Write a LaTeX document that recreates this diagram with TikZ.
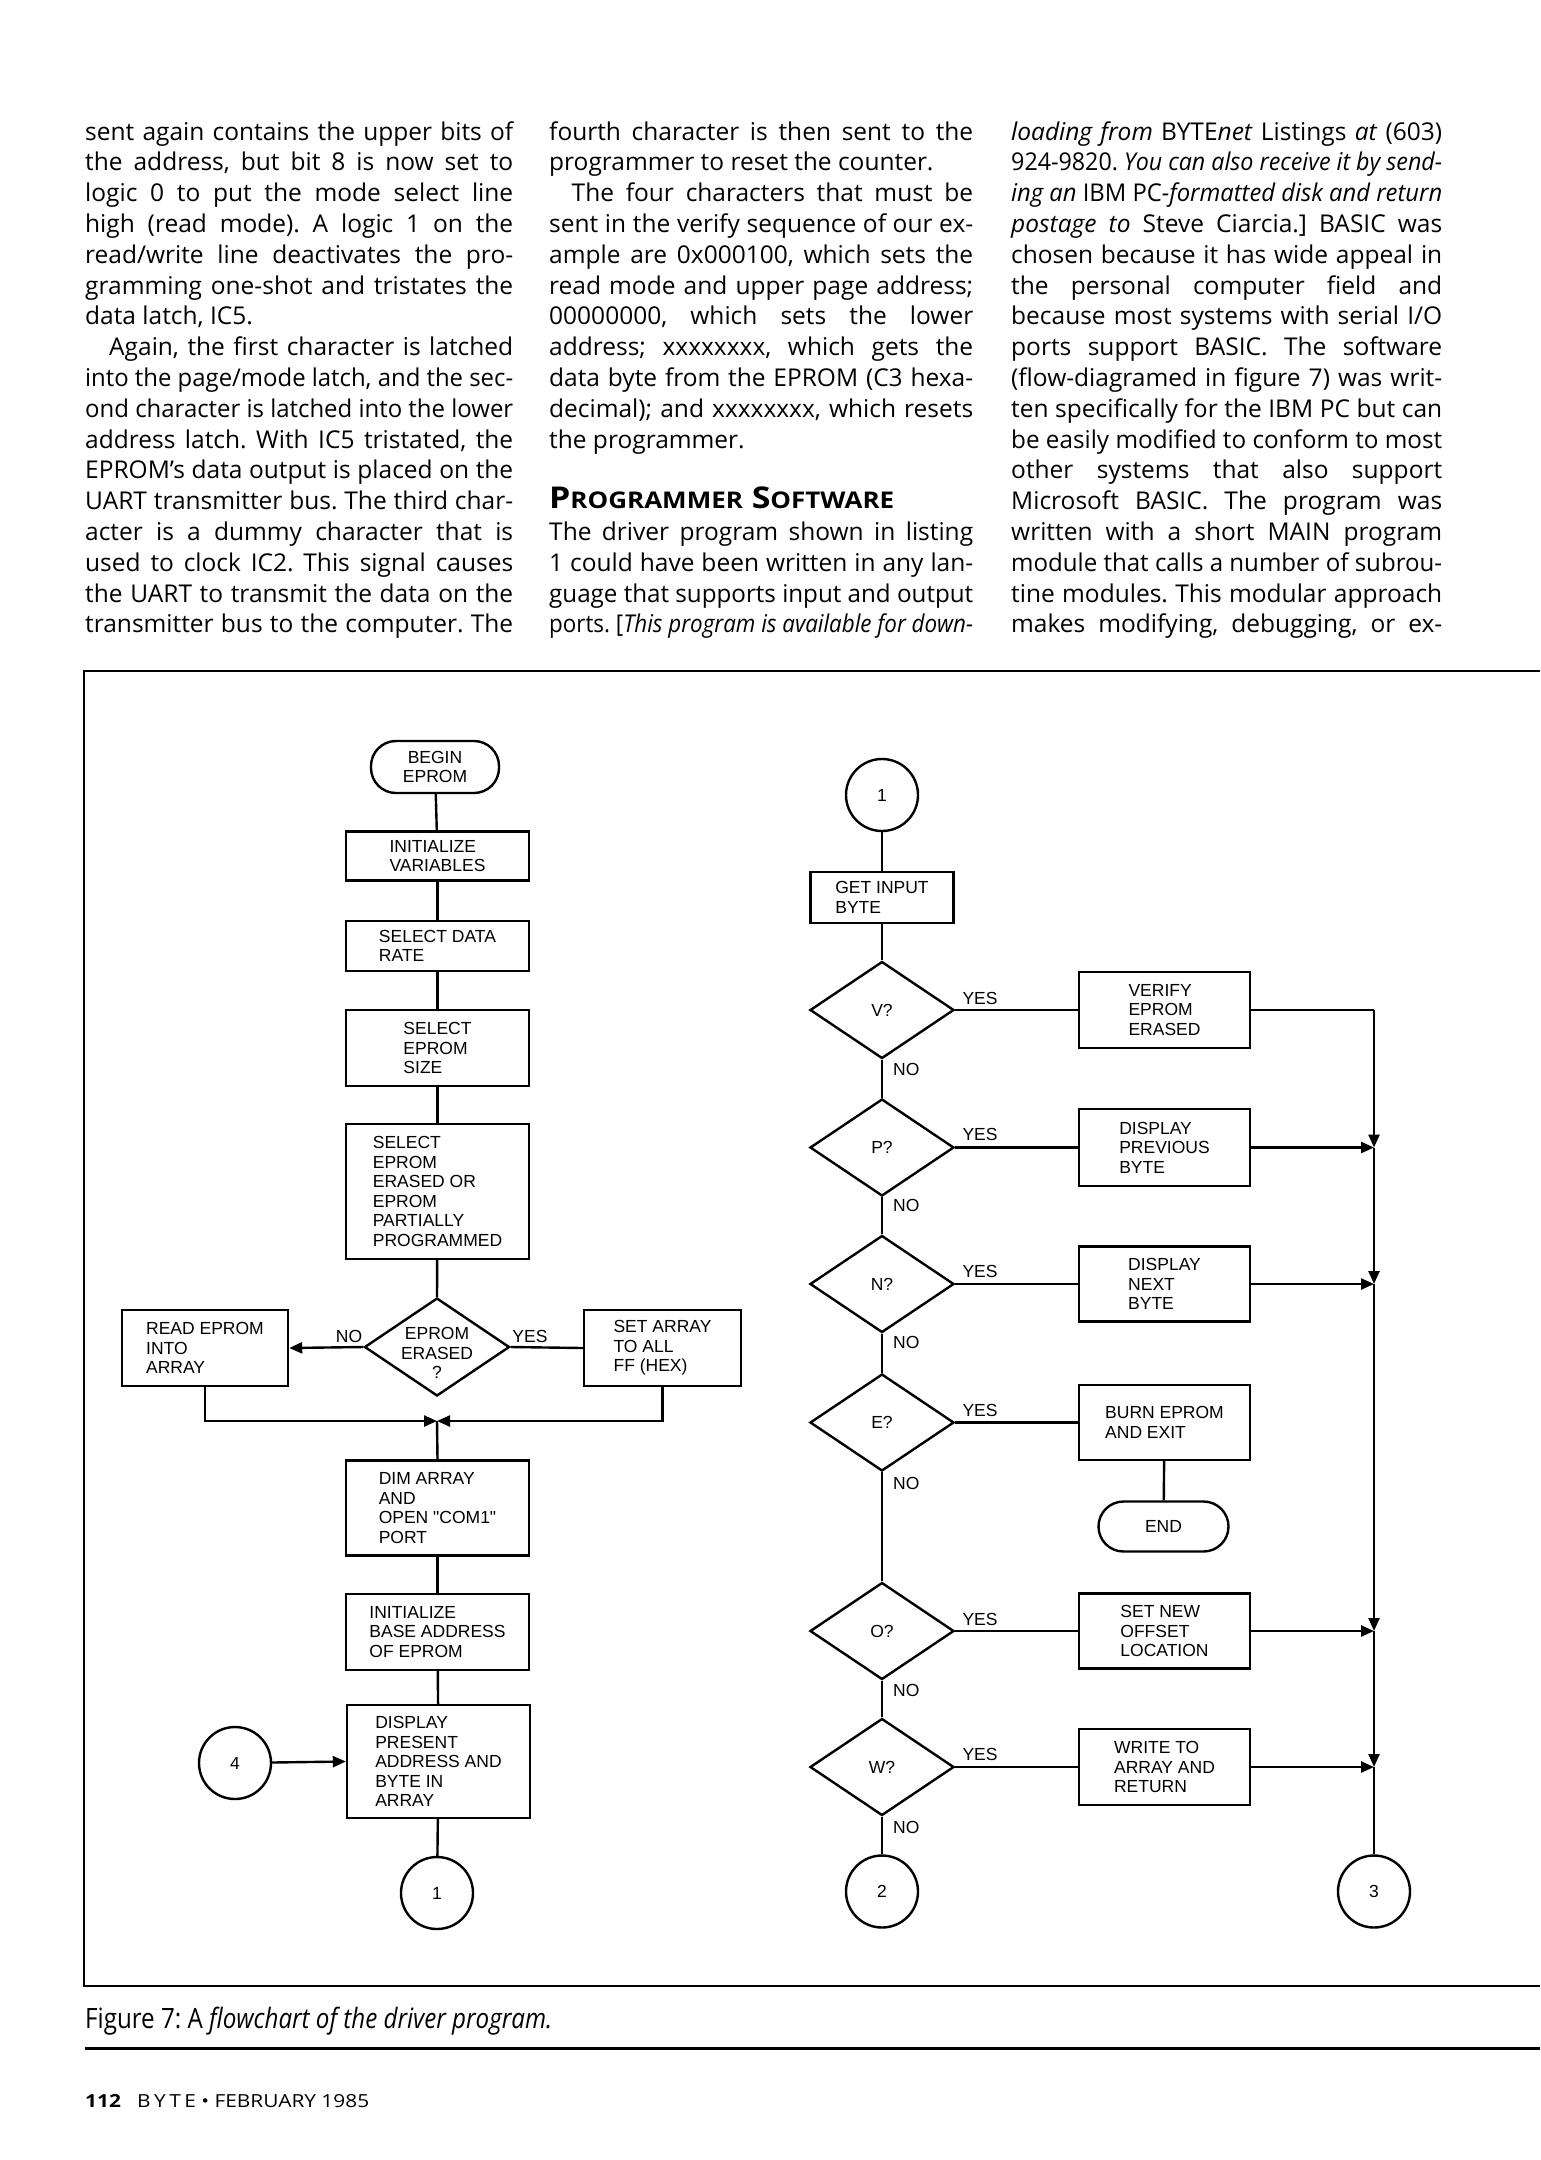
\documentclass[tikz,border=0pt]{standalone}
\usepackage{fontspec}
\usepackage{graphicx}
\setmainfont{Open Sans}
\newfontfamily\fcfont{Liberation Sans}
\usetikzlibrary{arrows.meta,shapes.geometric}
\frenchspacing
\newlength\colw
\setlength\colw{428pt}
\newsavebox\linebox
\newcommand\J[2][\colw]{\sbox\linebox{#2}\ifdim\wd\linebox>#1\relax\resizebox{#1}{\height}{\usebox\linebox}\else\makebox[#1][s]{#2}\fi}
\newcommand\TL[4]{\node[txt] (#1) at (#2,{140+30.8*(#3-1)}) {#4};}
\begin{document}
\begin{tikzpicture}[x=1pt,y=-1pt,
  txt/.style={anchor=base west, inner sep=0pt, font=\fontsize{24.5}{28}\selectfont},
  fc/.style={font=\fcfont\fontsize{17.5}{19.5}\selectfont},
  ln/.style={line width=2.4pt},
  bx/.style 2 args={draw, ln, fc, align=left, inner sep=0pt, minimum width=#1, minimum height=#2},
  term/.style 2 args={bx={#1}{#2}, rounded corners=25pt, align=center},
  dia/.style={draw, ln, diamond, minimum width=144pt, minimum height=97pt, inner sep=0pt},
  dl/.style={fc, align=center},
  circ/.style={draw, ln, circle, minimum size=72pt, inner sep=0pt, fc},
  arr/.style={ln, -{Triangle[length=13pt,width=11pt]}},
  lab/.style={fc, inner sep=0pt}
]
\useasboundingbox (0,0) rectangle (1540,2160);

% ---------- column 1 ----------
\setlength\colw{428pt}
\TL{a1}{85}{1}{\J{sent again contains the upper bits of}}
\TL{a2}{85}{2}{\J{the address, but bit 8 is now set to}}
\TL{a3}{85}{3}{\J{logic 0 to put the mode select line}}
\TL{a4}{85}{4}{\J{high (read mode). A logic 1 on the}}
\TL{a5}{85}{5}{\J{read/write line deactivates the pro-}}
\TL{a6}{85}{6}{\J{gramming one-shot and tristates the}}
\TL{a7}{85}{7}{data latch, IC5.}
\TL{a8}{109}{8}{\J[404pt]{Again, the first character is latched}}
\TL{a9}{85}{9}{\J{into the page/mode latch, and the sec-}}
\TL{a10}{85}{10}{\J{ond character is latched into the lower}}
\TL{a11}{85}{11}{\J{address latch. With IC5 tristated, the}}
\TL{a12}{85}{12}{\J{EPROM's data output is placed on the}}
\TL{a13}{85}{13}{\J{UART transmitter bus. The third char-}}
\TL{a14}{85}{14}{\J{acter is a dummy character that is}}
\TL{a15}{85}{15}{\J{used to clock IC2. This signal causes}}
\TL{a16}{85}{16}{\J{the UART to transmit the data on the}}
\TL{a17}{85}{17}{\J{transmitter bus to the computer. The}}

% ---------- column 2 ----------
\setlength\colw{424pt}
\TL{b1}{549}{1}{\J{fourth character is then sent to the}}
\TL{b2}{549}{2}{programmer to reset the counter.}
\TL{b3}{571.5}{3}{\J[401.5pt]{The four characters that must be}}
\TL{b4}{549}{4}{\J{sent in the verify sequence of our ex-}}
\TL{b5}{549}{5}{\J{ample are 0x000100, which sets the}}
\TL{b6}{549}{6}{\J{read mode and upper page address;}}
\TL{b7}{549}{7}{\J{00000000, which sets the lower}}
\TL{b8}{549}{8}{\J{address; xxxxxxxx, which gets the}}
\TL{b9}{549}{9}{\J{data byte from the EPROM (C3 hexa-}}
\TL{b10}{549}{10}{\J{decimal); and xxxxxxxx, which resets}}
\TL{b11}{549}{11}{the programmer.}
\node[anchor=base west, inner sep=0pt] (head) at (549,508)
  {\resizebox{345pt}{\height}{\bfseries\fontsize{30}{30}\selectfont P{\fontsize{23}{23}\selectfont ROGRAMMER} S{\fontsize{23}{23}\selectfont OFTWARE}}};
\TL{b14}{549}{14}{\J{The driver program shown in listing}}
\TL{b15}{549}{15}{\J{1 could have been written in any lan-}}
\TL{b16}{549}{16}{\J{guage that supports input and output}}
\TL{b17}{549}{17}{\J{ports. [\textit{This program is available for down-}}}

% ---------- column 3 ----------
\setlength\colw{431pt}
\TL{c1}{1011}{1}{\J{\textit{loading from} BYTE\textit{net} Listings \textit{at} (603)}}
\TL{c2}{1011}{2}{\J{924-9820. \textit{You can also receive it by send-}}}
\TL{c3}{1011}{3}{\J{\textit{ing an} IBM PC\textit{-formatted disk and return}}}
\TL{c4}{1011}{4}{\J{\textit{postage to} Steve Ciarcia.] BASIC was}}
\TL{c5}{1011}{5}{\J{chosen because it has wide appeal in}}
\TL{c6}{1011}{6}{\J{the personal computer field and}}
\TL{c7}{1011}{7}{\J{because most systems with serial I/O}}
\TL{c8}{1011}{8}{\J{ports support BASIC. The software}}
\TL{c9}{1011}{9}{\J{(flow-diagramed in figure 7) was writ-}}
\TL{c10}{1011}{10}{\J{ten specifically for the IBM PC but can}}
\TL{c11}{1011}{11}{\J{be easily modified to conform to most}}
\TL{c12}{1011}{12}{\J{other systems that also support}}
\TL{c13}{1011}{13}{\J{Microsoft BASIC. The program was}}
\TL{c14}{1011}{14}{\J{written with a short MAIN program}}
\TL{c15}{1011}{15}{\J{module that calls a number of subrou-}}
\TL{c16}{1011}{16}{\J{tine modules. This modular approach}}
\TL{c17}{1011}{17}{\J{makes modifying, debugging, or ex-}}

% ---------- figure frame ----------
\draw[line width=2.5pt] (1540,671) -- (84,671) -- (84,1986) -- (1540,1986);

% ---------- left flow ----------
\node[term={128pt}{52pt}] (beg) at (435,767) {BEGIN\\EPROM};
\node[bx={183pt}{49pt}] (init) at (437.5,856) {INITIALIZE\\VARIABLES};
\node[bx={183pt}{50pt}] (rate) at (437.5,946) {SELECT DATA\\RATE};
\node[bx={183pt}{76pt}] (size) at (437.5,1048) {SELECT\\EPROM\\SIZE};
\node[bx={183pt}{135pt}] (sel) at (437.5,1191.5) {SELECT\\EPROM\\ERASED OR\\EPROM\\PARTIALLY\\PROGRAMMED};
\node[dia, minimum width=145pt, minimum height=98pt] (dec) at (437,1347) {};
\node[dl] (dect) at (437,1353) {EPROM\\ERASED\\?};
\node[bx={166pt}{76pt}] (rd) at (205,1348) {READ EPROM\\INTO\\ARRAY};
\node[bx={157pt}{76pt}] (ff) at (662.5,1348) {SET ARRAY\\TO ALL\\FF (HEX)};
\node[lab] (dno) at (349,1336) {NO};
\node[lab] (dyes) at (530,1336) {YES};
\coordinate (mg) at (437,1421);
\node[bx={183pt}{95pt}] (dim) at (437.5,1508) {DIM ARRAY\\AND\\OPEN \textquotedbl COM1\textquotedbl\\PORT};
\node[bx={183pt}{76pt}] (base) at (437.5,1632) {INITIALIZE\\BASE ADDRESS\\OF EPROM};
\node[bx={183pt}{113pt}] (disp) at (438.5,1761.5) {DISPLAY\\PRESENT\\ADDRESS AND\\BYTE IN\\ARRAY};
\node[circ] (c4) at (235,1763) {4};
\node[circ] (c1b) at (437,1893) {1};

\draw[ln] (beg) -- (init);
\draw[ln] (init) -- (rate);
\draw[ln] (rate) -- (size);
\draw[ln] (size) -- (sel);
\draw[ln] (sel) -- (dec.north);
\draw[arr] (dec.west) -- (rd.east);
\draw[ln] (dec.east) -- (ff.west);
\draw[arr] (rd.south) |- (mg);
\draw[arr] (ff.south) |- (mg);
\draw[ln] (mg) -- (dim.north);
\draw[ln] (dim) -- (base);
\draw[ln] (base) -- (disp);
\draw[arr] (c4) -- (disp.west);
\draw[ln] (disp) -- (c1b);

% ---------- right flow ----------
\node[circ] (c1) at (882,795) {1};
\node[bx={143pt}{51pt}] (get) at (882,897.5) {GET INPUT\\BYTE};
\node[dia] (dv) at (882,1010) {};
\node[dl] (dvt) at (882,1010) {V?};
\node[dia] (dp) at (882,1147.5) {};
\node[dl] (dpt) at (882,1147.5) {P?};
\node[dia] (dn) at (882,1284) {};
\node[dl] (dnt) at (882,1284) {N?};
\node[dia] (de) at (882,1422.5) {};
\node[dl] (det) at (882,1422.5) {E?};
\node[dia] (do) at (882,1631) {};
\node[dl] (dot) at (882,1631) {O?};
\node[dia] (dw) at (882,1767) {};
\node[dl] (dwt) at (882,1767) {W?};
\node[circ] (c2) at (882,1891.5) {2};

\node[bx={171pt}{76pt}] (ver) at (1164.5,1010) {VERIFY\\EPROM\\ERASED};
\node[bx={171pt}{77pt}] (prev) at (1164.5,1147.5) {DISPLAY\\PREVIOUS\\BYTE};
\node[bx={171pt}{75pt}] (next) at (1164.5,1284) {DISPLAY\\NEXT\\BYTE};
\node[bx={171pt}{75pt}] (burn) at (1164.5,1422.5) {BURN EPROM\\AND EXIT};
\node[term={130pt}{50pt}] (end) at (1163.5,1526.5) {END};
\node[bx={171pt}{75pt}] (off) at (1164.5,1631) {SET NEW\\OFFSET\\LOCATION};
\node[bx={171pt}{76pt}] (wr) at (1164.5,1767) {WRITE TO\\ARRAY AND\\RETURN};
\node[circ] (c3) at (1374,1891.5) {3};

\foreach \y/\n in {998/1, 1134/2, 1271/3, 1410/4, 1619/5, 1754/6}{
  \node[lab] (yes\n) at (980,\y) {YES};
}
\foreach \y/\n in {1069/1, 1205/2, 1342/3, 1483/4, 1690/5, 1827/6}{
  \node[lab, anchor=west] (no\n) at (893,\y) {NO};
}

\coordinate (j1) at (1374,1010);
\coordinate (j2) at (1374,1147.5);
\coordinate (j3) at (1374,1284);
\coordinate (j4) at (1374,1631);
\coordinate (j5) at (1374,1767);

\draw[ln] (c1) -- (get);
\draw[ln] (get) -- (dv.north);
\draw[ln] (dv.south) -- (dp.north);
\draw[ln] (dp.south) -- (dn.north);
\draw[ln] (dn.south) -- (de.north);
\draw[ln] (de.south) -- (do.north);
\draw[ln] (do.south) -- (dw.north);
\draw[ln] (dw.south) -- (c2);

\draw[ln] (dv.east) -- (ver.west);
\draw[ln] (dp.east) -- (prev.west);
\draw[ln] (dn.east) -- (next.west);
\draw[ln] (de.east) -- (burn.west);
\draw[ln] (do.east) -- (off.west);
\draw[ln] (dw.east) -- (wr.west);
\draw[ln] (burn) -- (end);

\draw[ln] (ver.east) -- (j1);
\draw[arr] (j1) -- (j2);
\draw[arr] (prev.east) -- (j2);
\draw[arr] (j2) -- (j3);
\draw[arr] (next.east) -- (j3);
\draw[arr] (j3) -- (j4);
\draw[arr] (off.east) -- (j4);
\draw[arr] (j4) -- (j5);
\draw[arr] (wr.east) -- (j5);
\draw[ln] (j5) -- (c3);

% ---------- caption and footer ----------
\node[anchor=west, inner sep=0pt] (cap) at (85,2021)
  {\resizebox{467pt}{\height}{\fontsize{28}{30}\selectfont Figure 7: A \textit{flowchart of the driver program.}}};
\draw[line width=3pt] (85,2048) -- (1540,2048);
\node[anchor=west, inner sep=0pt] (foot) at (85,2101)
  {\resizebox{284pt}{\height}{\fontsize{18}{20}\selectfont\textbf{112}\hspace{14pt}B\,Y\,T\,E \textbullet{} FEBRUARY 1985}};
\end{tikzpicture}
\end{document}
